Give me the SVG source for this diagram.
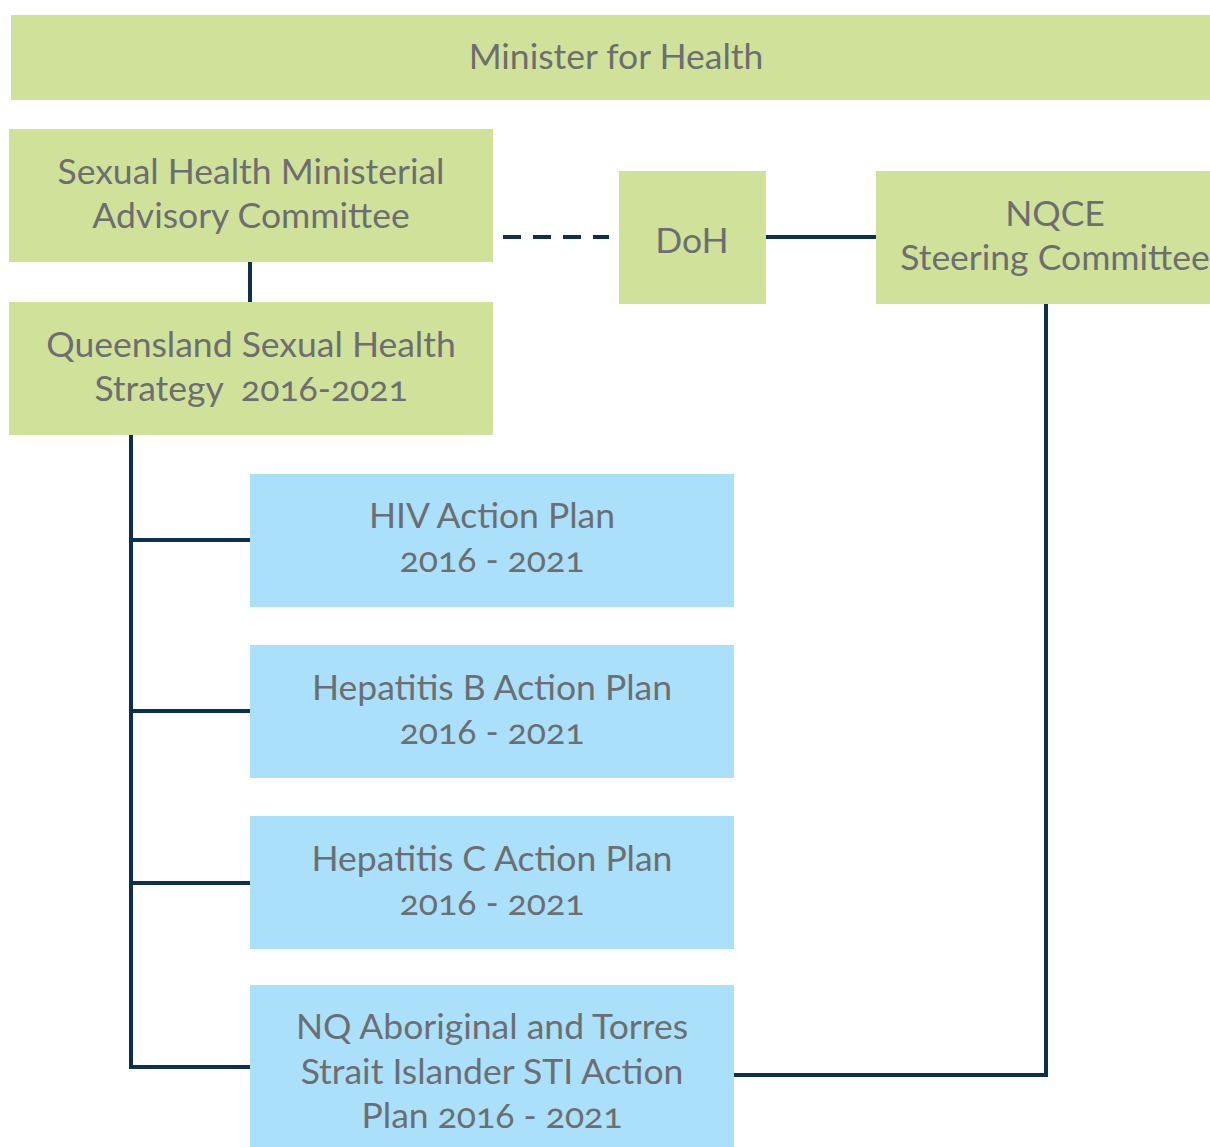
<svg xmlns="http://www.w3.org/2000/svg" width="1210" height="1147" viewBox="0 0 1210 1147">
  <style>
    .green { fill: #d0e29a; }
    .blue { fill: #aae0fa; }
    .label { font-family: Lato, "Open Sans", "Liberation Sans", sans-serif; font-size: 35.5px; fill: #6d6e71; text-anchor: middle; font-variant-numeric: oldstyle-nums; font-feature-settings: "onum" 1; }
    .link { stroke: #0d3050; stroke-width: 4; fill: none; }
    .dash { stroke-dasharray: 18 12; }
  </style>
  <rect width="1210" height="1147" fill="#ffffff"/>

  <g id="connectors">
    <line class="link" x1="250" y1="262" x2="250" y2="302"/>
    <line class="link dash" x1="503" y1="237" x2="609" y2="237"/>
    <line class="link" x1="766" y1="237" x2="876" y2="237"/>
    <polyline class="link" points="1046,304 1046,1075 734,1075"/>
    <polyline class="link" points="131,435 131,1067 250,1067"/>
    <line class="link" x1="131" y1="540" x2="250" y2="540"/>
    <line class="link" x1="131" y1="711" x2="250" y2="711"/>
    <line class="link" x1="131" y1="883" x2="250" y2="883"/>
  </g>

  <g id="minister">
    <rect class="green" x="11" y="15" width="1199" height="85"/>
    <text class="label" x="616" y="69">Minister for Health</text>
  </g>

  <g id="advisory-committee">
    <rect class="green" x="9" y="129" width="484" height="133"/>
    <text class="label" x="251" y="184">Sexual Health Ministerial</text>
    <text class="label" x="251" y="228">Advisory Committee</text>
  </g>

  <g id="strategy">
    <rect class="green" x="9" y="302" width="484" height="133"/>
    <text class="label" x="251" y="357">Queensland Sexual Health</text>
    <text class="label" x="251" y="401" xml:space="preserve" style="white-space: pre">Strategy  2016-2021</text>
  </g>

  <g id="doh">
    <rect class="green" x="619" y="171" width="147" height="133"/>
    <text class="label" x="692" y="253">DoH</text>
  </g>

  <g id="nqce">
    <rect class="green" x="876" y="171" width="334" height="133"/>
    <text class="label" x="1055" y="226">NQCE</text>
    <text class="label" x="1055" y="270">Steering Committee</text>
  </g>

  <g id="hiv-plan">
    <rect class="blue" x="250" y="474" width="484" height="133"/>
    <text class="label" x="492" y="528">HIV Action Plan</text>
    <text class="label" x="492" y="572">2016 - 2021</text>
  </g>

  <g id="hepb-plan">
    <rect class="blue" x="250" y="645" width="484" height="133"/>
    <text class="label" x="492" y="700">Hepatitis B Action Plan</text>
    <text class="label" x="492" y="744">2016 - 2021</text>
  </g>

  <g id="hepc-plan">
    <rect class="blue" x="250" y="816" width="484" height="133"/>
    <text class="label" x="492" y="871">Hepatitis C Action Plan</text>
    <text class="label" x="492" y="915">2016 - 2021</text>
  </g>

  <g id="sti-plan">
    <rect class="blue" x="250" y="985" width="484" height="162"/>
    <text class="label" x="492" y="1039">NQ Aboriginal and Torres</text>
    <text class="label" x="492" y="1084">Strait Islander STI Action</text>
    <text class="label" x="492" y="1128">Plan 2016 - 2021</text>
  </g>
</svg>
